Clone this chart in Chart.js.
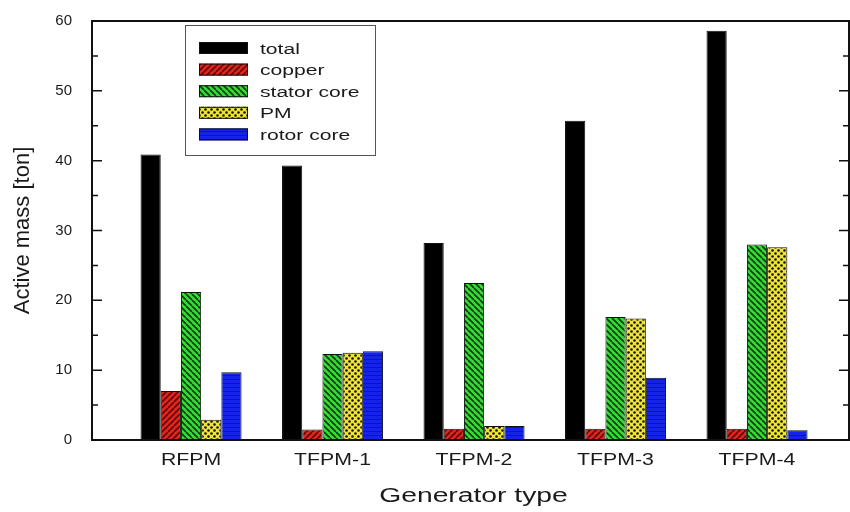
<!DOCTYPE html>
<html>
<head>
<meta charset="utf-8">
<script src="https://cdn.jsdelivr.net/npm/chart.js@4.4.1/dist/chart.umd.min.js"></script>
<style>
  html, body { margin: 0; background: #fff; }
  #wrap { width: 850px; height: 512px; }
</style>
</head>
<body>
<div id="wrap"><canvas id="massChart" width="850" height="512"></canvas></div>
<script>
const generators = ['RFPM', 'TFPM-1', 'TFPM-2', 'TFPM-3', 'TFPM-4'];
const totalMass  = [40.9, 39.3, 28.2, 45.7, 58.6];
const copperMass = [7.0, 1.5, 1.6, 1.6, 1.6];
const statorMass = [21.2, 12.3, 22.5, 17.6, 28.0];
const pmMass     = [2.9, 12.5, 2.0, 17.4, 27.6];
const rotorMass  = [9.7, 12.7, 2.0, 8.9, 1.4];
const yTicks     = [0, 10, 20, 30, 40, 50, 60];

const canvas = document.getElementById('massChart');
const mainCtx = canvas.getContext('2d');
const FONT = '"Liberation Sans", Arial, sans-serif';
const INK = '#1a1a1a';

function makePattern(bg, size, draw) {
  const c = document.createElement('canvas');
  c.width = c.height = size;
  const g = c.getContext('2d');
  g.fillStyle = bg;
  g.fillRect(0, 0, size, size);
  draw(g, size);
  return mainCtx.createPattern(c, 'repeat');
}

function hatch(color, up) {
  return (g, s) => {
    g.strokeStyle = color;
    g.lineWidth = 1.6;
    g.beginPath();
    for (const o of [-s, 0, s]) {
      if (up) { g.moveTo(o, s); g.lineTo(o + s, 0); }
      else    { g.moveTo(o, 0); g.lineTo(o + s, s); }
    }
    g.stroke();
  };
}

const copperFill = makePattern('#e3231d', 6, hatch('#5a0808', true));
const statorFill = makePattern('#36d936', 6, hatch('#0b3d0b', false));
const pmFill = makePattern('#efe33a', 6, (g) => {
  g.fillStyle = '#111';
  for (const [x, y] of [[1.5, 1.5], [4.5, 4.5]]) {
    g.beginPath(); g.arc(x, y, 1.3, 0, Math.PI * 2); g.fill();
  }
});
const rotorFill = makePattern('#1424e6', 4, (g) => {
  g.fillStyle = '#0b15b0';
  g.fillRect(0, 3, 4, 1);
});

const series = [
  { label: 'total',       values: totalMass,  fill: '#000' },
  { label: 'copper',      values: copperMass, fill: copperFill },
  { label: 'stator core', values: statorMass, fill: statorFill },
  { label: 'PM',          values: pmMass,     fill: pmFill },
  { label: 'rotor core',  values: rotorMass,  fill: rotorFill }
];

function wideText(ctx, text, x, y, size, stretch, align) {
  ctx.save();
  ctx.font = size + 'px ' + FONT;
  ctx.fillStyle = INK;
  ctx.textBaseline = 'alphabetic';
  ctx.textAlign = align;
  ctx.translate(x, y);
  ctx.scale(stretch, 1);
  ctx.fillText(text, 0, 0);
  ctx.restore();
}

const framePlugin = {
  id: 'frame',
  afterDatasetsDraw(chart) {
    const { ctx, chartArea: a, scales: { y } } = chart;
    ctx.save();
    ctx.strokeStyle = '#111';
    ctx.lineWidth = 2;
    ctx.strokeRect(a.left, a.top, a.right - a.left, a.bottom - a.top);
    // inward ticks on both vertical axes
    ctx.lineWidth = 1.5;
    ctx.beginPath();
    yTicks.forEach((v, i) => {
      const marks = [[v, 10]];
      if (i < yTicks.length - 1) marks.push([(v + yTicks[i + 1]) / 2, 6]);
      marks.forEach(([val, len]) => {
        const py = y.getPixelForValue(val);
        ctx.moveTo(a.left, py);  ctx.lineTo(a.left + len, py);
        ctx.moveTo(a.right, py); ctx.lineTo(a.right - len, py);
      });
    });
    ctx.stroke();
    ctx.restore();
  },
  afterDraw(chart) {
    const { ctx, chartArea: a, scales: { x } } = chart;
    // category labels + x title
    generators.forEach((g, i) => {
      wideText(ctx, g, x.getPixelForValue(i + 1), a.bottom + 25, 16, 1.33, 'center');
    });
    wideText(ctx, 'Generator type', (a.left + a.right) / 2 + 3, a.bottom + 62, 19.5, 1.45, 'center');

    // legend box
    const bx = 185, by = 25, bw = 190, bh = 130;
    ctx.save();
    ctx.fillStyle = '#fff';
    ctx.fillRect(bx, by, bw, bh);
    ctx.strokeStyle = '#555';
    ctx.lineWidth = 1;
    ctx.strokeRect(bx + 0.5, by + 0.5, bw, bh);
    chart.data.datasets.forEach((ds, i) => {
      const cy = 48 + i * 21.6;
      ctx.fillStyle = ds.backgroundColor;
      ctx.fillRect(199, cy - 6, 49, 12);
      ctx.strokeStyle = '#111';
      ctx.strokeRect(199.5, cy - 5.5, 48, 11);
      wideText(ctx, ds.label, 260, cy + 5.5, 15.5, 1.36, 'left');
    });
    ctx.restore();
  }
};

new Chart(canvas, {
  type: 'bar',
  data: {
    datasets: series.map(s => ({
      label: s.label,
      data: s.values.map((v, i) => ({ x: i + 1, y: v })),
      backgroundColor: s.fill,
      borderColor: '#111',
      borderWidth: 1,
      barPercentage: 1,
      categoryPercentage: 0.714
    }))
  },
  options: {
    responsive: false,
    animation: false,
    layout: { padding: { top: 15, right: 1, left: 0, bottom: 0 } },
    plugins: { legend: { display: false }, tooltip: { enabled: false } },
    scales: {
      x: {
        type: 'linear',
        min: 0.3,
        max: 5.65,
        offset: false,
        afterBuildTicks: s => { s.ticks = generators.map((g, i) => ({ value: i + 1 })); },
        grid: { display: false },
        border: { display: false },
        ticks: { display: false },
        afterFit: s => { s.height = 72; }
      },
      y: {
        min: 0,
        max: 60,
        afterBuildTicks: s => { s.ticks = yTicks.map(v => ({ value: v })); },
        grid: { display: false },
        border: { display: false },
        ticks: { font: { family: FONT, size: 15 }, color: INK, padding: 12 },
        title: {
          display: true,
          text: 'Active mass [ton]',
          font: { family: FONT, size: 22 },
          color: INK,
          padding: { top: 10, bottom: 0 }
        },
        afterFit: s => { s.width = 92; }
      }
    }
  },
  plugins: [framePlugin]
});
</script>
</body>
</html>
